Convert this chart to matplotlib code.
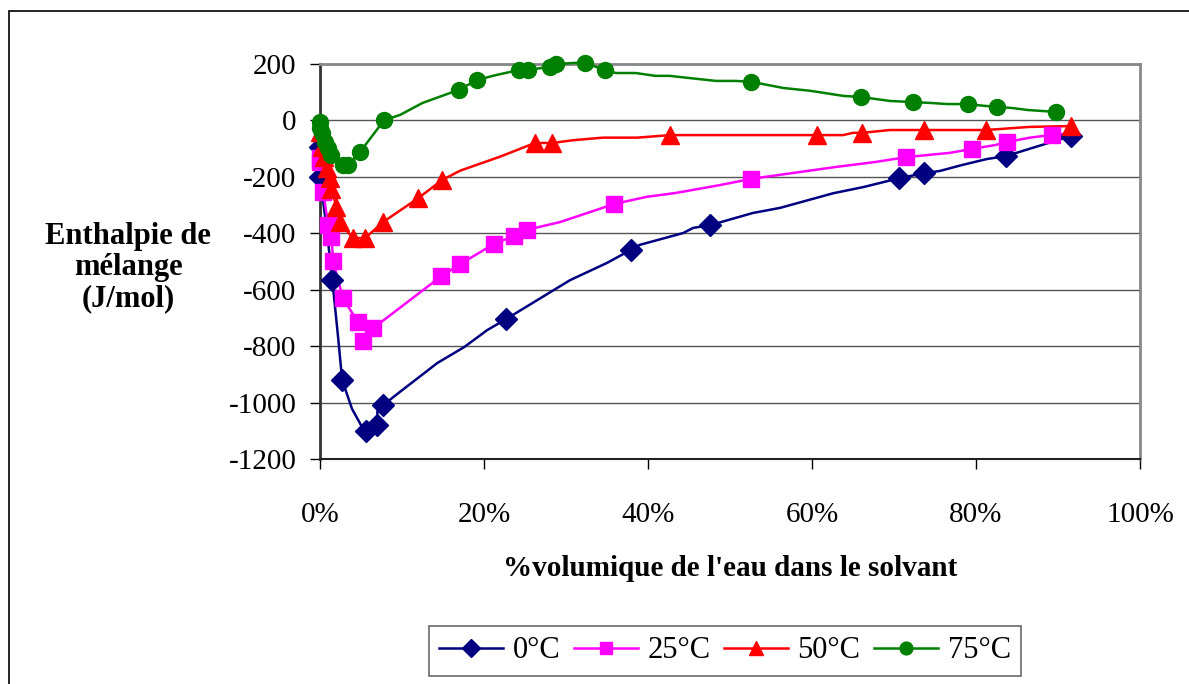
import matplotlib.pyplot as plt
from matplotlib.lines import Line2D
from matplotlib.patches import Rectangle
from matplotlib.ticker import FuncFormatter, MultipleLocator

plt.rcParams["font.family"] = ["Liberation Serif", "DejaVu Serif"]

## 0 C : markers and traced line
x0 = [0.0, 0.0, 1.5, 2.7, 5.6, 7.0, 7.7, 22.7, 37.9, 47.6, 70.6, 73.7, 83.7, 91.6]
y0 = [-95, -200, -566, -920, -1101, -1080, -1009, -704, -459, -371, -205, -187, -126, -55]
cx0 = [0.0, 0.0, 0.8, 1.5, 2.2, 2.7, 3.9, 5.0, 5.6, 7.0, 7.0, 7.7, 9.8, 14.3, 17.6, 20.4, 22.7,
       30.5, 35.0, 37.9, 39.0, 44.3, 45.5, 47.6, 52.8, 56.1, 62.6, 66.3, 70.6, 73.7, 75.6,
       78.3, 81.3, 83.7, 91.6]
cy0 = [-95, -200, -380, -566, -766, -920, -1022, -1080, -1101, -1080, -1030, -1009, -961, -860,
       -803, -743, -704, -566, -505, -459, -441, -399, -381, -371, -328, -310, -258, -236, -205,
       -187, -179, -158, -137, -126, -55]

## 25 C
x25 = [0.0, 0.0, 0.4, 1.0, 1.4, 1.6, 2.8, 4.6, 5.2, 6.5, 14.8, 17.1, 21.2, 23.6, 25.2, 35.9,
       52.6, 71.5, 79.5, 83.8, 89.3]
y25 = [-134, -147, -254, -371, -413, -499, -630, -714, -782, -736, -552, -509, -438, -410, -388,
       -296, -207, -130, -101, -76, -51]
cx25 = [0.0, 0.4, 1.0, 1.4, 1.6, 2.8, 4.6, 6.5, 14.8, 17.1, 21.2, 23.6, 25.2, 29.3, 35.9, 39.8,
        43.4, 48.8, 52.6, 62.9, 67.8, 71.5, 76.8, 79.5, 82.4, 83.8, 86.6, 89.3, 90.7]
cy25 = [-134, -254, -371, -413, -499, -630, -714, -736, -552, -509, -438, -410, -388, -360, -296,
        -271, -257, -229, -207, -165, -147, -130, -115, -101, -87, -76, -61, -51, -48]

## 50 C
x50 = [0.0, 0.2, 0.5, 0.8, 1.2, 1.4, 2.0, 2.4, 4.0, 5.5, 7.7, 12.0, 14.9, 26.2, 28.3, 42.7,
       60.6, 66.1, 73.7, 81.2, 91.6]
y50 = [-40, -95, -130, -169, -204, -243, -306, -360, -417, -417, -360, -275, -211, -80, -80, -52,
       -52, -44, -34, -34, -20]
cx50 = [0.0, 0.2, 0.5, 0.8, 1.2, 1.4, 2.0, 2.4, 4.0, 5.5, 7.7, 12.0, 14.9, 17.1, 22.0, 26.2,
        28.3, 30.9, 34.5, 38.7, 42.7, 60.6, 63.8, 65.0, 66.1, 69.5, 73.7, 81.2, 86.5, 91.6]
cy50 = [-40, -95, -130, -169, -204, -243, -306, -360, -417, -417, -360, -275, -211, -178, -128,
        -80, -80, -70, -61, -61, -52, -52, -52, -44, -44, -34, -34, -34, -23, -20]

## 75 C
x75 = [0.0, 0.0, 0.2, 0.6, 1.0, 1.4, 2.8, 3.4, 4.9, 7.8, 16.9, 19.2, 24.3, 25.4, 28.0, 28.8,
       32.3, 34.7, 52.6, 66.0, 72.3, 79.0, 82.6, 89.8]
y75 = [-5, -26, -44, -76, -98, -122, -158, -158, -111, 0, 108, 144, 179, 179, 190, 200, 204,
       179, 137, 83, 65, 58, 48, 30]
cx75 = [0.0, 0.0, 0.2, 0.6, 1.0, 1.4, 2.8, 3.4, 4.9, 7.8, 9.8, 12.5, 16.9, 19.2, 21.5, 24.3,
        25.4, 28.0, 28.8, 31.2, 32.3, 34.7, 36.1, 38.5, 40.9, 42.6, 48.3, 50.7, 52.6, 56.5,
        59.8, 63.8, 66.0, 69.5, 72.3, 74.4, 76.5, 79.0, 80.9, 82.6, 84.4, 86.3, 89.8]
cy75 = [-5, -26, -44, -76, -98, -122, -158, -158, -111, 0, 20, 62, 108, 144, 161, 179, 179, 190,
        200, 204, 204, 179, 168, 168, 158, 158, 140, 140, 137, 115, 105, 87, 83, 69, 65, 62, 58,
        58, 52, 48, 44, 37, 30]

series = [
    ("0°C", "#000080", "D", 11, x0, y0, cx0, cy0),
    ("25°C", "#FF00FF", "s", 11, x25, y25, cx25, cy25),
    ("50°C", "#FF0000", "^", 13, x50, y50, cx50, cy50),
    ("75°C", "#008000", "o", 11.5, x75, y75, cx75, cy75),
]

fig = plt.figure(figsize=(11.89, 6.84), dpi=100)
ax = fig.add_axes([320 / 1189, 1 - 459 / 684, 820 / 1189, 395 / 684])

# outer chart frame
fig.patches.append(Rectangle((9 / 1189, -0.1), 1.2, 1 - 11 / 684 + 0.1, transform=fig.transFigure,
                             fill=False, edgecolor="black", lw=1.2))

handles = []
for name, col, mk, ms, xm, ym, xc, yc in series:
    ax.plot(xc, yc, color=col, lw=1.8, zorder=3, clip_on=False)
    ax.plot(xm, ym, ls="none", marker=mk, ms=ms, color=col, mec=col, zorder=4, clip_on=False)
    handles.append(Line2D([], [], color=col, lw=1.8, marker=mk, ms=ms * 0.8, mec=col))

ax.set_xlim(0, 100)
ax.set_ylim(-1200, 200)
ax.xaxis.set_major_locator(MultipleLocator(20))
ax.yaxis.set_major_locator(MultipleLocator(200))
ax.xaxis.set_major_formatter(FuncFormatter(lambda v, p: "%d%%" % v))
ax.yaxis.set_major_formatter(FuncFormatter(lambda v, p: "%d" % v))
ax.grid(axis="y", color="#555555", lw=1.0)
ax.set_axisbelow(True)
ax.tick_params(axis="x", direction="out", length=7, width=1, pad=24, labelsize=21)
ax.tick_params(axis="y", direction="out", length=7, width=1, pad=10, labelsize=21)
for s in ["top", "right"]:
    ax.spines[s].set_color("#888888")
    ax.spines[s].set_linewidth(2)
ax.spines["left"].set_color("#333333")
ax.spines["left"].set_linewidth(2)
ax.spines["bottom"].set_color("#222222")
ax.spines["bottom"].set_linewidth(1.5)

fig.text(128 / 1189, 1 - 268 / 684, "Enthalpie de\nmélange\n(J/mol)", ha="center", va="center",
         fontsize=22, fontweight="bold", linespacing=1.1)
fig.text(730 / 1189, 1 - 568 / 684, "%volumique de l'eau dans le solvant", ha="center",
         va="center", fontsize=21, fontweight="bold")

leg = fig.legend(handles, [s[0] for s in series], loc="center", bbox_to_anchor=(725 / 1189, 1 - 651 / 684),
                 ncol=4, fontsize=22, frameon=True, fancybox=False, handlelength=2.1,
                 handletextpad=0.3, columnspacing=0.45, borderpad=0.35)
leg.get_frame().set_edgecolor("#444444")
leg.get_frame().set_linewidth(1.2)

fig.savefig("out.png", dpi=100)
